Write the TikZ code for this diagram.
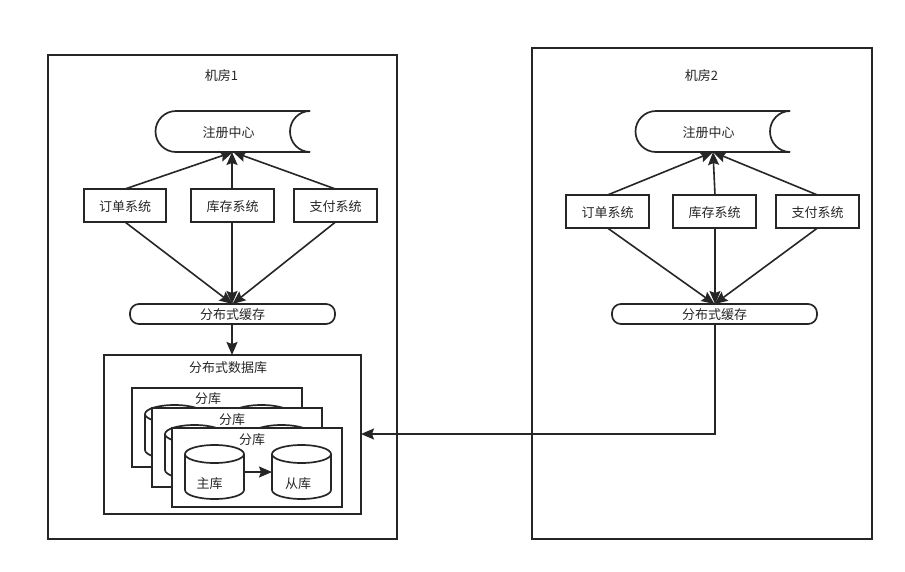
\documentclass[tikz,border=0pt]{standalone}
\usepackage{fontspec}
\setmainfont{Noto Sans CJK SC}
\usetikzlibrary{arrows.meta}

\newcommand{\regline}[1]{
  \draw[line] (#1.north east) -- ++(-134,0) arc (90:270:20.5pt) -- (#1.south east);
  \draw[line] (#1.north east) arc (90:270:20pt and 20.5pt);
}
\newcommand{\storeline}[1]{
  \draw[line, fill=white] ([yshift=-9pt]#1.north west) arc (180:0:29.5pt and 9pt)
    -- ([yshift=9pt]#1.south east) arc (360:180:29.5pt and 9pt) -- cycle;
  \draw[line] ([yshift=-9pt]#1.north west) arc (180:360:29.5pt and 9pt);
}

\begin{document}
\begin{tikzpicture}
        [x=1pt, y=-1pt, font=\fontsize{13}{14}\selectfont, text=black!85,
        text height=12pt, text depth=1pt,
        line/.style={draw=black!85, line width=1.7pt},
        room/.style={rectangle, line, fill=white, inner sep=0, outer sep=0},
        reg/.style={inner sep=0, outer sep=0, minimum width=154pt, minimum height=41pt},
        sys/.style={room, minimum width=83pt, minimum height=33pt},
        cache/.style={room, rounded corners=9pt, minimum width=205pt, minimum height=20pt},
        shard/.style={room, minimum width=170pt, minimum height=79pt},
        store/.style={inner sep=0, outer sep=0, minimum width=59pt, minimum height=54pt},
        arr/.style={-{Stealth[length=13pt, width=11pt, inset=2pt]}, draw=black!85, line width=1.6pt}]
        \useasboundingbox (0,0) rectangle (905,571);
        % machine rooms
        \node (room1) at (222.5,297) [room, minimum width=349pt, minimum height=484pt] {};
        \node (room2) at (702,293.5) [room, minimum width=340pt, minimum height=491pt] {};
        \node (title1) at (221.5,75) {机房1};
        \node (title2) at (701.5,75) {机房2};
        % left room
        \node (reg1) at (233,131.5) [reg] {};
        \regline{reg1}
        \node (regtext1) at (228.5,131.5) {注册中心};
        \node (order1) at (125,205.5) [sys, minimum width=82pt] {订单系统};
        \node (stock1) at (232.5,205.5) [sys] {库存系统};
        \node (pay1) at (335.5,205.5) [sys] {支付系统};
        \node (cache1) at (232.5,314) [cache] {分布式缓存};
        % right room
        \node (reg2) at (713,131.5) [reg] {};
        \regline{reg2}
        \node (regtext2) at (708.5,131.5) {注册中心};
        \node (order2) at (607.5,211.5) [sys] {订单系统};
        \node (stock2) at (714.5,211.5) [sys] {库存系统};
        \node (pay2) at (817.5,211.5) [sys] {支付系统};
        \node (cache2) at (714.5,314) [cache] {分布式缓存};
        % database
        \node (db) at (232.5,434.5) [room, minimum width=257pt, minimum height=159pt] {};
        \node (dbtitle) at (228,366.5) {分布式数据库};
        \foreach \i/\dx/\dy/\tx/\ty in {1/0/0/208/397.5, 2/20/20/232/418.5} {
          \node (shard\i) at (217+\dx,427.5+\dy) [shard] {};
          \node (shardtitle\i) at (\tx,\ty) {分库};
          \node (master\i) at (174.5+\dx,432+\dy) [store] {};
          \storeline{master\i}
          \node (slave\i) at (261.5+\dx,432+\dy) [store] {};
          \storeline{slave\i}
        }
        \node (shardtop) at (257,467.5) [shard] {};
        \node (shardlabel) at (252,438.5) {分库};
        \node (master) at (214.5,472) [store] {};
        \storeline{master}
        \node (slave) at (301.5,472) [store] {};
        \storeline{slave}
        \node (masterlabel) at (209.5,483) {主库};
        \node (slavelabel) at (298,483) {从库};
        % connectors
        \foreach \r/\s/\t in {1/-0.5pt/-1pt,2/0.5pt/0pt} {
          \draw[arr] (order\r.north) -- (reg\r.south);
          \draw[arr] ([xshift=\s]stock\r.north) -- ([xshift=\t]reg\r.south);
          \draw[arr] (pay\r.north) -- (reg\r.south);
          \draw[arr] (order\r.south) -- (cache\r.north);
          \draw[arr] ([xshift=\s]stock\r.south) -- ([xshift=\s]cache\r.north);
          \draw[arr] (pay\r.south) -- (cache\r.north);
        }
        \draw[arr] ([xshift=-0.5pt]cache1.south) -- ([xshift=-0.5pt]db.north);
        \draw[arr] ([xshift=0.5pt]cache2.south) |- ([yshift=0.5pt]db.east);
        \draw[arr] (master.east) -- (slave.west);
\end{tikzpicture}
\end{document}
